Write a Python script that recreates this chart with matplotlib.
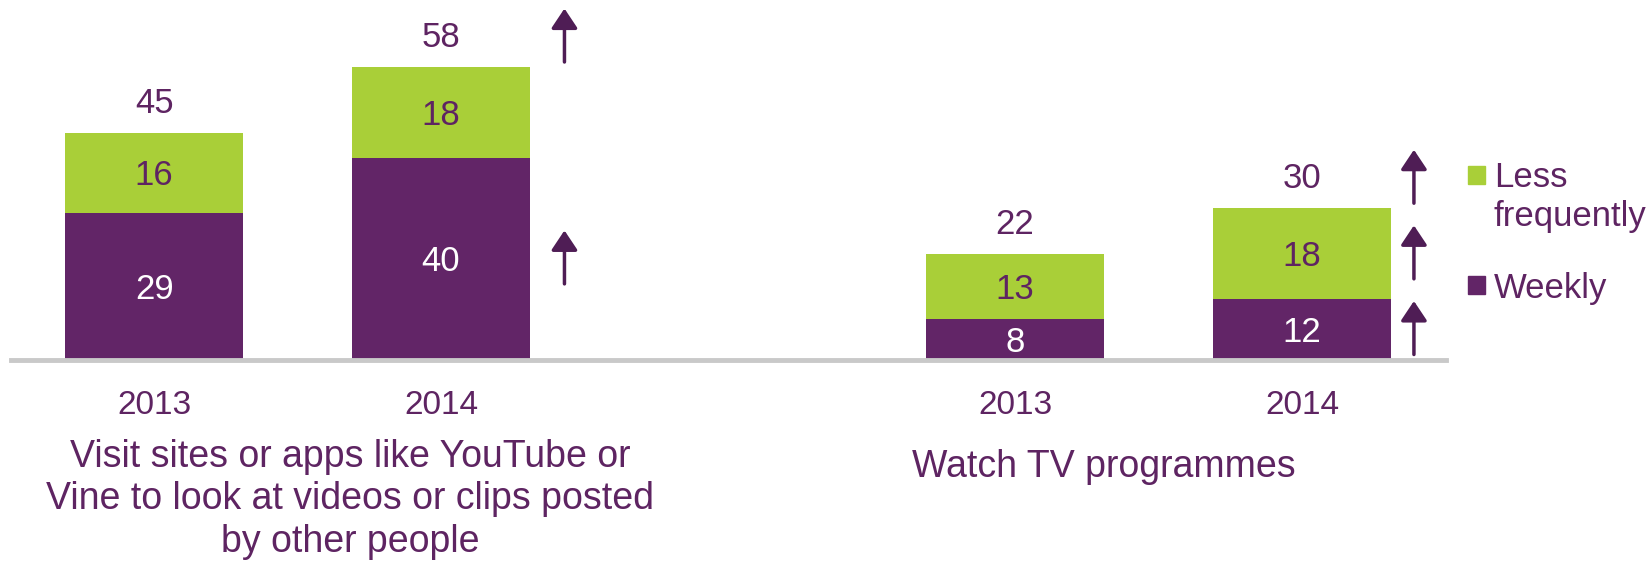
import matplotlib
matplotlib.use("Agg")
import matplotlib.pyplot as plt
from matplotlib.patches import Rectangle

plt.rcParams['font.family'] = ['Liberation Sans', 'DejaVu Sans']

# data
years = ["2013", "2014", "2013", "2014"]
positions = [0, 1, 3, 4]
weekly = [29, 40, 8, 12]
less_freq = [16, 18, 13, 18]
totals = [45, 58, 22, 30]
categories = ["Visit sites or apps like YouTube or\nVine to look at videos or clips posted\nby other people",
              "Watch TV programmes"]
series = ["Less\nfrequently", "Weekly"]
# significant increase arrows: bar index -> segments marked
arrows = {1: ["weekly", "total"], 3: ["weekly", "less", "total"]}

PURPLE = "#622567"
GREEN = "#A9CF38"
TEXT = "#5E2462"
ARROW = "#4F1D55"
GREY = "#C9C9C9"

fig = plt.figure(figsize=(16.52, 5.63), dpi=100)
ax = fig.add_axes([0.0064, 0.3614, 0.8686, 0.627])

width = 0.618
ax.bar(positions, weekly, width, color=PURPLE)
ax.bar(positions, less_freq, width, bottom=weekly, color=GREEN)

dy = 0.6  # nudge so digits sit visually centred
for i, x in enumerate(positions):
    ax.text(x, weekly[i] / 2 - dy, str(weekly[i]), ha='center', va='center',
            fontsize=25, color='white')
    ax.text(x, weekly[i] + less_freq[i] / 2 - dy, str(less_freq[i]), ha='center',
            va='center', fontsize=25, color=TEXT)
    ax.text(x, weekly[i] + less_freq[i] + 6 - 0.2, str(totals[i]), ha='center',
            va='center', fontsize=25, color=TEXT)

arrow_dx = [0.43, 0.39]
for i, segs in arrows.items():
    x = positions[i] + arrow_dx[0 if positions[i] < 2 else 1]
    for s in segs:
        if s == "weekly":
            yc = weekly[i] / 2
        elif s == "less":
            yc = weekly[i] + less_freq[i] / 2
        else:
            yc = weekly[i] + less_freq[i] + 6
        ax.annotate('', xy=(x, yc + 5.6), xytext=(x, yc - 5.0),
                    arrowprops=dict(arrowstyle='-|>,head_width=0.8,head_length=1.2',
                                    lw=2.5, color=ARROW, mutation_scale=10,
                                    shrinkA=0, shrinkB=0))

ax.set_xlim(-0.5, 4.5)
ax.set_ylim(0, 70)
for sp in ['top', 'right', 'left']:
    ax.spines[sp].set_visible(False)
ax.spines['bottom'].set_color(GREY)
ax.spines['bottom'].set_linewidth(3.5)
ax.set_yticks([])
ax.set_xticks(positions)
ax.set_xticklabels(years, fontsize=24, color=TEXT)
ax.tick_params(axis='x', length=0, pad=22)

# category labels
ax.text(0.684, -15.7, categories[0], ha='center', va='top', fontsize=27,
        color=TEXT, linespacing=1.24)
ax.text(3.31, -21.4, categories[1], ha='center', va='center', fontsize=27,
        color=TEXT)

# legend
fig.add_artist(Rectangle((0.8884, 0.674), 0.0108, 0.0318, color=GREEN,
                         transform=fig.transFigure))
fig.text(0.9043, 0.6505, series[0], ha='left', va='center', fontsize=25,
         color=TEXT, linespacing=1.25)
fig.add_artist(Rectangle((0.8884, 0.4775), 0.0108, 0.0318, color=PURPLE,
                         transform=fig.transFigure))
fig.text(0.9043, 0.4875, series[1], ha='left', va='center', fontsize=25,
         color=TEXT)

fig.savefig("out.png", dpi=100)
